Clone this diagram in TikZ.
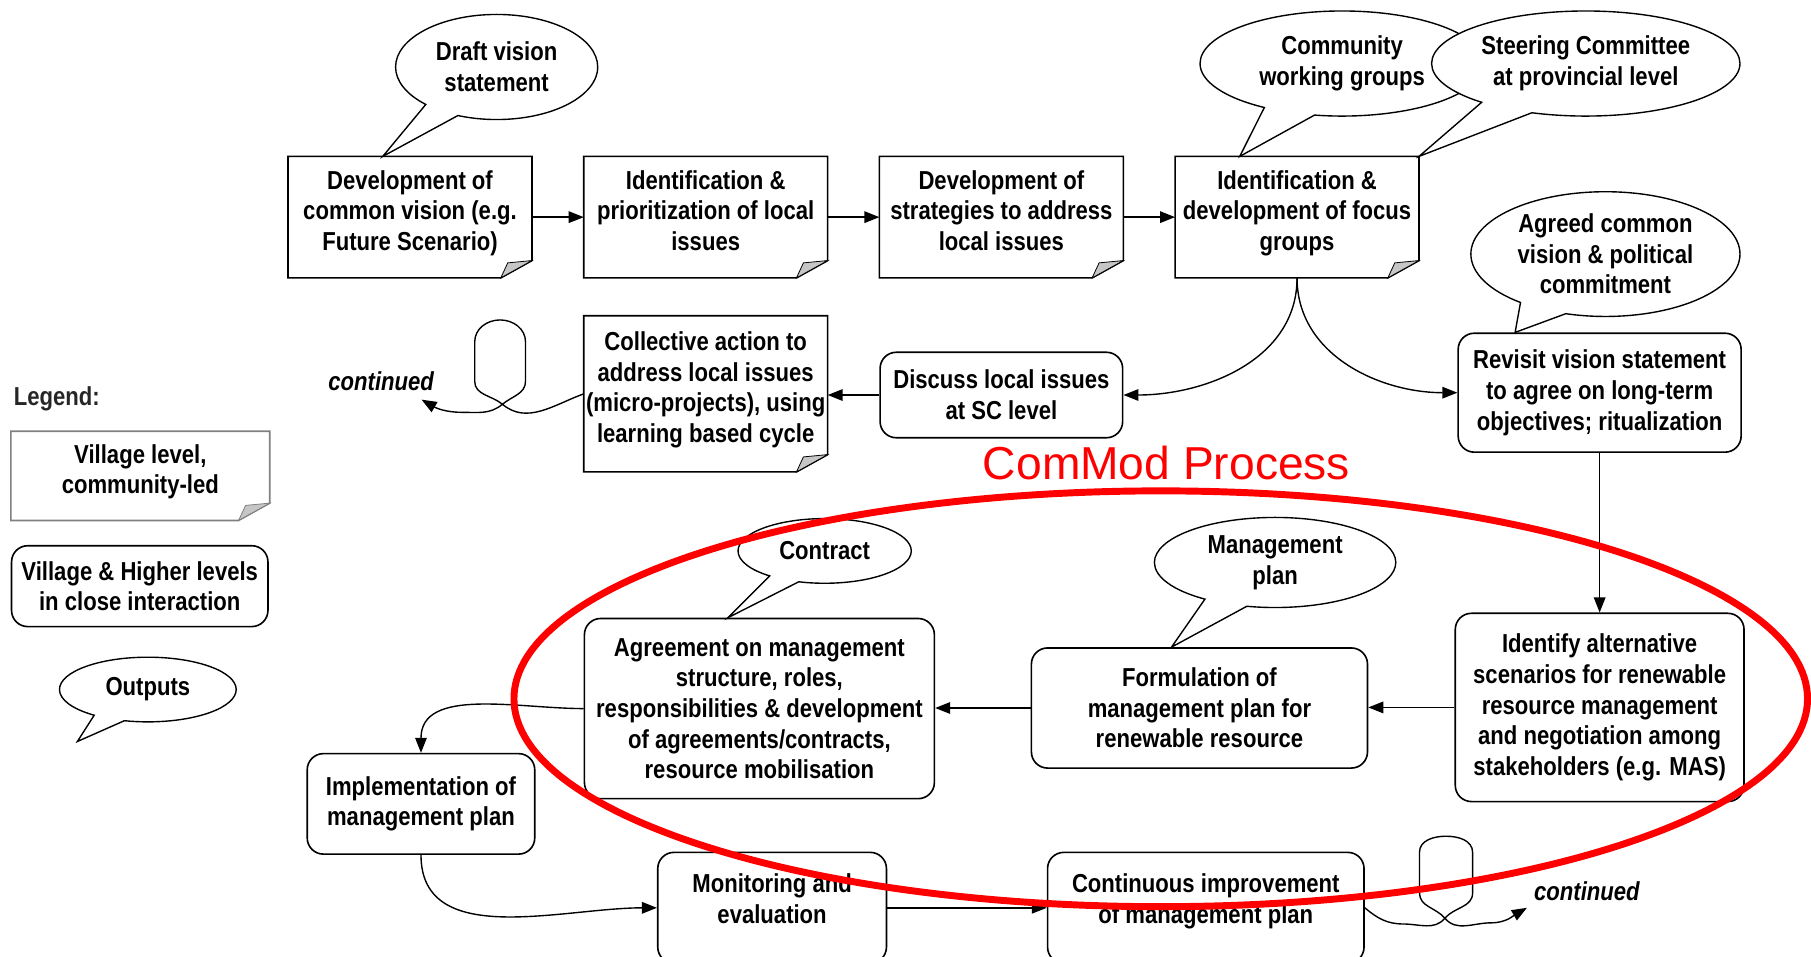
\documentclass[tikz,border=0pt]{standalone}
\usepackage{fontspec}
\setmainfont{Liberation Sans}[FakeStretch=0.85]
\newfontfamily\titlefont{Liberation Sans}
\usetikzlibrary{shapes.callouts,arrows.meta,calc}

\newcommand\diagfont{\fontsize{22.5}{26.5}\selectfont\bfseries}

\tikzset{
  village/.style={align=center, inner sep=1pt, text depth=12pt, minimum width=210pt, minimum height=104pt},
  shared/.style={draw, fill=white, rounded corners=14pt, align=center, inner sep=1pt, line width=1.4pt},
  output/.style={ellipse callout, draw, fill=white, align=center, inner sep=0pt,
    callout pointer arc=22, line width=1.2pt},
}

\begin{document}
\begin{tikzpicture}[
    x=1pt, y=-1pt,
    >={Triangle[length=13pt,width=10pt]},
    line width=1.2pt,
    font=\diagfont,
  ]
  \useasboundingbox (0,0) rectangle (1568,828);
  \clip (0,0) rectangle (1568,828);

  % village level boxes
  \node[village] (vision) at (355,188) {Development of\\common vision (e.g.\\Future Scenario)};
  \node[village] (prio) at (611,188) {Identification \&\\prioritization of local\\issues};
  \node[village] (strat) at (867,188) {Development of\\strategies to address\\local issues};
  \node[village] (focus) at (1123,188) {Identification \&\\development of focus\\groups};
  \node[village, minimum height=134pt] (collect) at (611,341) {Collective action to\\address local issues\\(micro-projects), using\\learning based cycle};
  \node[village, minimum width=223pt, minimum height=76pt] (legvil) at (121.5,412) {Village level,\\community-led};
  \foreach \n/\c in {vision/black, prio/black, strat/black, focus/black, collect/black, legvil/gray} {
    \draw[\c, line width=1.4pt] (\n.north west) -- (\n.north east) -- ($(\n.south east)+(0,-15)$)
      -- ($(\n.south east)+(-27,0)$) -- (\n.south west) -- cycle;
    \filldraw[fill=gray!45, draw=\c, line width=0.7pt] ($(\n.south east)+(-27,0)$) -- ($(\n.south east)+(0,-15)$)
      -- ($(\n.south east)+(-21,-13)$) -- cycle;
  }

  % village and higher levels
  \node[shared, minimum width=210pt, minimum height=74pt] (discuss) at (867,342) {Discuss local issues\\at SC level};
  \node[shared, minimum width=245pt, minimum height=103pt] (revisit) at (1385,340) {Revisit vision statement\\to agree on long-term\\objectives; ritualization};
  \node[shared, minimum width=250pt, minimum height=163pt] (identify) at (1385,612.5) {Identify alternative\\scenarios for renewable\\resource management\\and negotiation among\\stakeholders (e.g. MAS)};
  \node[shared, minimum width=291pt, minimum height=104pt] (formul) at (1038.5,613) {Formulation of\\management plan for\\renewable resource};
  \node[shared, minimum width=303pt, minimum height=156pt] (agree) at (657.5,613.5) {Agreement on management\\structure, roles,\\responsibilities \& development\\of agreements/contracts,\\resource mobilisation};
  \node[shared, minimum width=197pt, minimum height=87pt] (impl) at (364.5,696) {Implementation of\\management plan};
  \node[shared, minimum width=198pt, minimum height=96pt, text depth=16pt] (monitor) at (668.5,786) {Monitoring and\\evaluation};
  \node[shared, minimum width=274pt, minimum height=96pt, text depth=16pt] (contin) at (1044,786) {Continuous improvement\\of management plan};
  \node[shared, minimum width=222pt, minimum height=70pt] (legshared) at (121,507.5) {Village \& Higher levels\\in close interaction};

  % outputs
  \node[output, minimum width=175pt, minimum height=91pt, callout absolute pointer={($(vision.north west)+(82,0)$)}] (draftout) at (430,58) {Draft vision\\statement};
  \node[output, minimum width=246pt, minimum height=91pt, callout absolute pointer={($(focus.north west)+(56,0)$)}] (groupsout) at (1162,55) {Community\\working groups};
  \node[output, minimum width=267pt, minimum height=91pt, callout absolute pointer={(focus.north east)}] (scout) at (1373,55) {Steering Committee\\at provincial level};
  \node[output, minimum width=233pt, minimum height=108pt, callout absolute pointer={($(revisit.north west)+(50,0)$)}] (agreedout) at (1390,220) {Agreed common\\vision \& political\\commitment};
  \node[output, minimum width=150pt, minimum height=56pt, callout absolute pointer={($(agree.north west)+(125,0)$)}] (contractout) at (714,477) {Contract};
  \node[output, minimum width=209pt, minimum height=78pt, callout absolute pointer={($(formul.north west)+(122,0)$)}] (planout) at (1104,487) {Management\\plan};
  \coordinate (legtip) at (67,642);
  \node[output, minimum width=153pt, minimum height=56pt, callout absolute pointer={(legtip)}] (legout) at (128,597) {Outputs};
  \node[anchor=west, text=black!85] (legend) at (8,345) {Legend:};

  % flow
  \draw[->] (vision) -- (prio);
  \draw[->] (prio) -- (strat);
  \draw[->] (strat) -- (focus);
  \draw[->] (focus.south) to[out=-90,in=0] (discuss.east);
  \draw[->] (focus.south) to[out=-90,in=180] (revisit.west);
  \draw[->] (discuss.west) -- (discuss.west -| collect.east);
  \draw[->] (revisit) -- (identify);
  \draw[->] (identify.west) -- (identify.west -| formul.east);
  \draw[->] (formul.west) -- (formul.west -| agree.east);
  \draw[->] (agree.west) to[out=180,in=90] (impl.north);
  \draw[->] (impl.south) to[out=-90,in=180] (monitor.west);
  \draw[->] (monitor) -- (contin);

  % continued loops
  \node[font=\diagfont\itshape] (contleft) at (330,330) {continued};
  \coordinate (lefttip) at (365,346);
  \draw[->] (collect.west) to[out=200,in=-40] (435,350) to[out=140,in=-90] (411,330) -- (411,296)
    to[out=90,in=180] (433,277) to[out=0,in=90] (455,296) -- (455,330) to[out=-90,in=40] (435,350)
    to[out=220,in=0] (400,357) to[out=180,in=-30] (lefttip);
  \node[font=\diagfont\itshape] (contright) at (1374,772) {continued};
  \coordinate (righttip) at (1322,786);
  \draw[->] (contin.east) to[out=-40,in=180] (1215,800) to[out=0,in=-130] (1251,795)
    to[out=50,in=-90] (1275,773) -- (1275,738) to[out=90,in=0] (1252,724) to[out=180,in=90] (1229,738)
    -- (1229,773) to[out=-90,in=130] (1251,795) to[out=-50,in=180] (1291,799) to[out=0,in=-150] (righttip);

  % comod
  \node[text=red, font=\titlefont\fontsize{40}{44}\selectfont] (commod) at (1010,401) {ComMod Process};
  \draw[red, line width=6pt] (1005,605) ellipse [x radius=560pt, y radius=180pt];
\end{tikzpicture}
\end{document}
